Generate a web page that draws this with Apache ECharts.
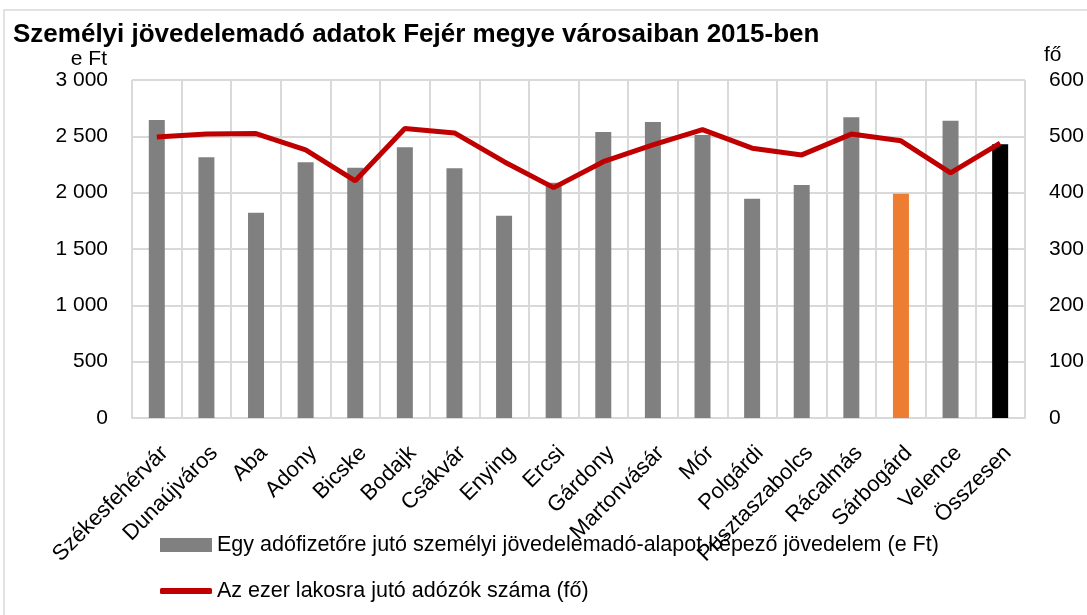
<!DOCTYPE html>
<html>
<head>
<meta charset="utf-8">
<script src="https://cdn.jsdelivr.net/npm/echarts@6/dist/echarts.min.js"></script>
<style>
  html, body { margin: 0; padding: 0; background: #fff; }
  #chart { width: 1087px; height: 615px; }
</style>
</head>
<body>
<div id="chart"></div>
<script>
// városok
const cities = ['Székesfehérvár', 'Dunaújváros', 'Aba', 'Adony', 'Bicske', 'Bodajk', 'Csákvár', 'Enying', 'Ercsi',
    'Gárdony', 'Martonvásár', 'Mór', 'Polgárdi', 'Pusztaszabolcs', 'Rácalmás', 'Sárbogárd', 'Velence', 'Összesen'];
// egy adófizetőre jutó jövedelem (e Ft)
const income = [2645, 2314, 1822, 2269, 2222, 2403, 2216, 1796, 2089,
    2538, 2627, 2512, 1947, 2068, 2669, 1991, 2639, 2429];
// ezer lakosra jutó adózók (fő)
const taxpayers = [499, 504, 505, 476, 421, 514, 506, 455, 409,
    455, 485, 512, 479, 467, 504, 492, 435, 488];
const leftTicks = [0, 500, 1000, 1500, 2000, 2500, 3000];
const rightTicks = [0, 100, 200, 300, 400, 500, 600];

const barName = 'Egy adófizetőre jutó személyi jövedelemadó-alapot képező jövedelem (e Ft)';
const lineName = 'Az ezer lakosra jutó adózók száma (fő)';
const FONT = '"Liberation Sans", Arial, sans-serif';

// kiemelt oszlopok színe
function barColor(name) {
    if (name === 'Sárbogárd') return '#ED7D31';
    if (name === 'Összesen') return '#000000';
    return '#808080';
}

let fmt = function (v) {
    return String(v).replace(/\B(?=(\d{3})+(?!\d))/g, ' ');
};

const chart = echarts.init(document.getElementById('chart'));

let option = {
    backgroundColor: '#fff',
    animation: false,
    textStyle: { fontFamily: FONT, color: '#000' },
    title: {
        text: 'Személyi jövedelemadó adatok Fejér megye városaiban 2015-ben',
        left: 8,
        top: 17,
        textStyle: { fontFamily: FONT, fontWeight: 'bold', fontSize: 26, color: '#000' }
    },
    graphic: [{
        type: 'rect',
        shape: { x: 4, y: 10, width: 1100, height: 620 },
        style: { fill: 'none', stroke: '#d9d9d9', lineWidth: 1.5 },
        silent: true
    }],
    legend: [{
        orient: 'vertical',
        left: 155,
        top: 529,
        itemWidth: 52,
        itemHeight: 14,
        textStyle: { fontFamily: FONT, fontSize: 21.5, color: '#000' },
        data: [{ name: barName, icon: 'rect', itemStyle: { color: '#808080' } }]
    }, {
        orient: 'vertical',
        left: 155,
        top: 575,
        itemWidth: 52,
        itemHeight: 6,
        textStyle: { fontFamily: FONT, fontSize: 21.5, color: '#000' },
        data: [{ name: lineName, icon: 'roundRect', itemStyle: { color: '#C00000' } }]
    }],
    grid: { left: 132, right: 61, top: 80, bottom: 197 },
    xAxis: {
        type: 'category',
        data: cities,
        axisLine: { lineStyle: { color: '#d9d9d9', width: 2 } },
        axisTick: { show: false },
        splitLine: { show: true, lineStyle: { color: '#d9d9d9', width: 2 } },
        axisLabel: {
            rotate: 45,
            interval: 0,
            margin: 24,
            align: 'right',
            verticalAlign: 'top',
            fontSize: 22,
            color: '#000',
            fontFamily: FONT
        }
    },
    yAxis: [{
        type: 'value',
        min: leftTicks[0],
        max: leftTicks[leftTicks.length - 1],
        interval: 500,
        name: 'e Ft',
        nameLocation: 'end',
        nameGap: 7,
        nameTextStyle: { fontFamily: FONT, fontSize: 21, color: '#000', align: 'right', padding: [0, 25, 0, 0] },
        axisLine: { show: false },
        axisTick: { show: false },
        splitLine: { lineStyle: { color: '#d9d9d9', width: 2 } },
        axisLabel: { fontSize: 21, color: '#000', margin: 24, fontFamily: FONT, formatter: fmt }
    }, {
        type: 'value',
        min: rightTicks[0],
        max: rightTicks[rightTicks.length - 1],
        interval: 100,
        name: 'fő',
        nameLocation: 'end',
        nameGap: 14,
        nameTextStyle: { fontFamily: FONT, fontSize: 21, color: '#000', align: 'left', padding: [0, 0, 0, 19] },
        axisLine: { show: false },
        axisTick: { show: false },
        splitLine: { show: false },
        axisLabel: { fontSize: 21, color: '#000', margin: 24, fontFamily: FONT }
    }],
    series: [{
        name: barName,
        type: 'bar',
        barWidth: 16,
        itemStyle: { color: '#808080' },
        data: income.map((v, i) => ({ value: v, itemStyle: { color: barColor(cities[i]) } }))
    }, {
        name: lineName,
        type: 'line',
        yAxisIndex: 1,
        symbol: 'none',
        lineStyle: { color: '#C00000', width: 5 },
        itemStyle: { color: '#C00000' },
        data: taxpayers
    }]
};

chart.setOption(option);
</script>
</body>
</html>
